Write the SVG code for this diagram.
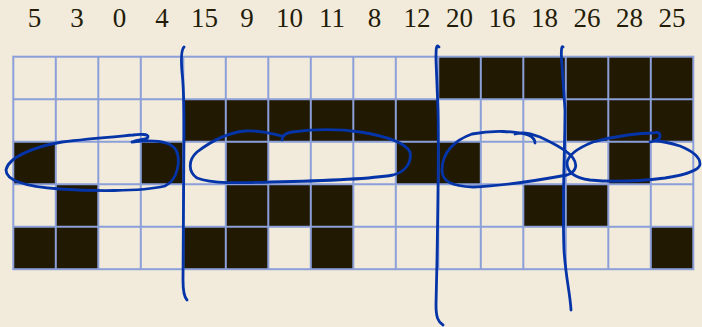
<svg xmlns="http://www.w3.org/2000/svg" width="702" height="327" viewBox="0 0 702 327">
<style>
.lbl{font-family:"Liberation Serif","DejaVu Serif",serif;font-size:27px;fill:#231c08;text-anchor:middle}
.on{fill:#221903}
.grid{stroke:#8b9fd8;stroke-width:2;fill:none}
.ink{stroke:#0434a8;stroke-width:2.8;fill:none;stroke-linecap:round;stroke-linejoin:round}
</style>
<rect width="702" height="327" fill="#f2eadb"/>
<g id="labels">
<text class="lbl" x="34.5" y="27">5</text>
<text class="lbl" x="77" y="27">3</text>
<text class="lbl" x="119.5" y="27">0</text>
<text class="lbl" x="162" y="27">4</text>
<text class="lbl" x="204.5" y="27">15</text>
<text class="lbl" x="247" y="27">9</text>
<text class="lbl" x="289.5" y="27">10</text>
<text class="lbl" x="332" y="27">11</text>
<text class="lbl" x="374.5" y="27">8</text>
<text class="lbl" x="417" y="27">12</text>
<text class="lbl" x="459.5" y="27">20</text>
<text class="lbl" x="502" y="27">16</text>
<text class="lbl" x="544.5" y="27">18</text>
<text class="lbl" x="587" y="27">26</text>
<text class="lbl" x="629.5" y="27">28</text>
<text class="lbl" x="672" y="27">25</text>
</g>
<g id="cells">
<!-- row 0 -->
<rect class="on" x="438.3" y="56.7" width="255" height="42.5"/>
<!-- row 1 -->
<rect class="on" x="183.3" y="99.2" width="255" height="42.5"/>
<rect class="on" x="565.8" y="99.2" width="127.5" height="42.5"/>
<!-- row 2 -->
<rect class="on" x="13.3" y="141.7" width="42.5" height="42.5"/>
<rect class="on" x="140.8" y="141.7" width="42.5" height="42.5"/>
<rect class="on" x="225.8" y="141.7" width="42.5" height="42.5"/>
<rect class="on" x="395.8" y="141.7" width="85" height="42.5"/>
<rect class="on" x="608.3" y="141.7" width="42.5" height="42.5"/>
<!-- row 3 -->
<rect class="on" x="55.8" y="184.2" width="42.5" height="42.5"/>
<rect class="on" x="225.8" y="184.2" width="127.5" height="42.5"/>
<rect class="on" x="523.3" y="184.2" width="85" height="42.5"/>
<!-- row 4 -->
<rect class="on" x="13.3" y="226.7" width="85" height="42.5"/>
<rect class="on" x="183.3" y="226.7" width="85" height="42.5"/>
<rect class="on" x="310.8" y="226.7" width="42.5" height="42.5"/>
<rect class="on" x="650.8" y="226.7" width="42.5" height="42.5"/>
</g>
<g id="grid" class="grid">
<rect x="13.3" y="56.7" width="680" height="212.5"/>
<path d="M13.3,99.2H693.3M13.3,141.7H693.3M13.3,184.2H693.3M13.3,226.7H693.3"/>
<path d="M55.8,56.7V269.2M98.3,56.7V269.2M140.8,56.7V269.2M183.3,56.7V269.2M225.8,56.7V269.2M268.3,56.7V269.2M310.8,56.7V269.2M353.3,56.7V269.2M395.8,56.7V269.2M438.3,56.7V269.2M480.8,56.7V269.2M523.3,56.7V269.2M565.8,56.7V269.2M608.3,56.7V269.2M650.8,56.7V269.2"/>
</g>
<g id="strokes" class="ink">
<path d="M184,47 C181,50 181,60 182,72 C184,88 184,105 184,130 L183,280 C183,292 184,297 187,300"/>
<path d="M439,47 C436,43 436,50 436,60 L438,110 C439,150 438,200 437,260 L436,305 C436,317 438,322 443,325"/>
<path d="M563,47 C561,45 561,55 562,65 L565,110 C565,150 562,200 564,250 C566,280 570,292 571,310"/>
<path d="M132,142 C140,139 147,140 148,137 C149,134 140,134 133,135 C110,137 85,139 62,142 C32,147 8,158 6,170 C6,182 30,187 60,189 C90,191 140,192 165,186 C178,180 181,160 176,150 C171,142 158,139 132,142"/>
<path d="M282,140 C282,136 285,133 292,132 C315,129 340,129 360,132 C385,136 405,142 410,152 C412,163 405,172 393,175 C370,179 320,181 270,182 C240,183 212,184 197,178 C188,172 188,160 197,152 C210,142 225,133 245,131 C262,130 272,134 282,136"/>
<path d="M535,143 C535,140 533,137 528,135 C515,131 493,130 472,134 C455,140 442,152 442,170 C442,182 452,186 473,187 C500,186 540,180 567,175 C576,172 578,165 573,158 C568,151 553,143 540,137 C530,133 520,132 515,134"/>
<path d="M650,142 C655,141 660,140 660,136 C660,132 657,132 653,133 C640,133 615,136 593,142 C578,148 568,155 567,163 C567,172 575,178 590,180 C610,182 640,181 665,178 C685,175 700,170 700,164 C700,156 690,150 680,146 C670,143 662,141 655,141"/>
</g>
</svg>
